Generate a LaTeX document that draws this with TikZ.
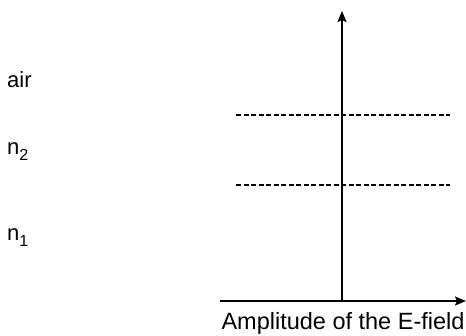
\documentclass[tikz,border=0pt]{standalone}
\usepackage{fontspec}
\setmainfont{Liberation Sans}
\usepackage{tikz}
\usetikzlibrary{arrows.meta, positioning, calc}

\begin{document}
\begin{tikzpicture}[x=1pt, y=-1pt,
    axis/.style={line width=1.8pt, -{Stealth[length=11pt, width=9pt, inset=2pt]}},
    boundary/.style={line width=1.2pt, dash pattern=on 5pt off 2.5pt},
    layer/.style={anchor=west, inner sep=0pt, font=\fontsize{22}{26}\selectfont}]
    \useasboundingbox (0,0) rectangle (466,335);

    % Axes
    \coordinate (origin) at (342, 301);
    \coordinate (left) at (220, 301);
    \coordinate (right) at (466, 301);
    \coordinate (top) at (342, 11);
    \draw[axis] (left) -- (right);
    \draw[axis] (origin) -- (top);

    % Layer boundaries
    \coordinate (b1w) at (236, 115);
    \coordinate (b1e) at (450, 115);
    \coordinate (b2w) at (236, 185);
    \coordinate (b2e) at (450, 185);
    \draw[boundary] (b1w) -- (b1e);
    \draw[boundary] (b2w) -- (b2e);

    % Layer labels
    \node[layer] (air) at (7, 80) {air};
    \node[layer] (ntwo) at (7, 152) {n\raisebox{-6pt}{\fontsize{16}{18}\selectfont 2}};
    \node[layer] (none) at (7, 238) {n\raisebox{-6pt}{\fontsize{16}{18}\selectfont 1}};

    % Axis label
    \node[font=\fontsize{23.5}{28}\selectfont, inner sep=0pt] (amp) at (343, 323) {Amplitude of the E-field};

\end{tikzpicture}
\end{document}
